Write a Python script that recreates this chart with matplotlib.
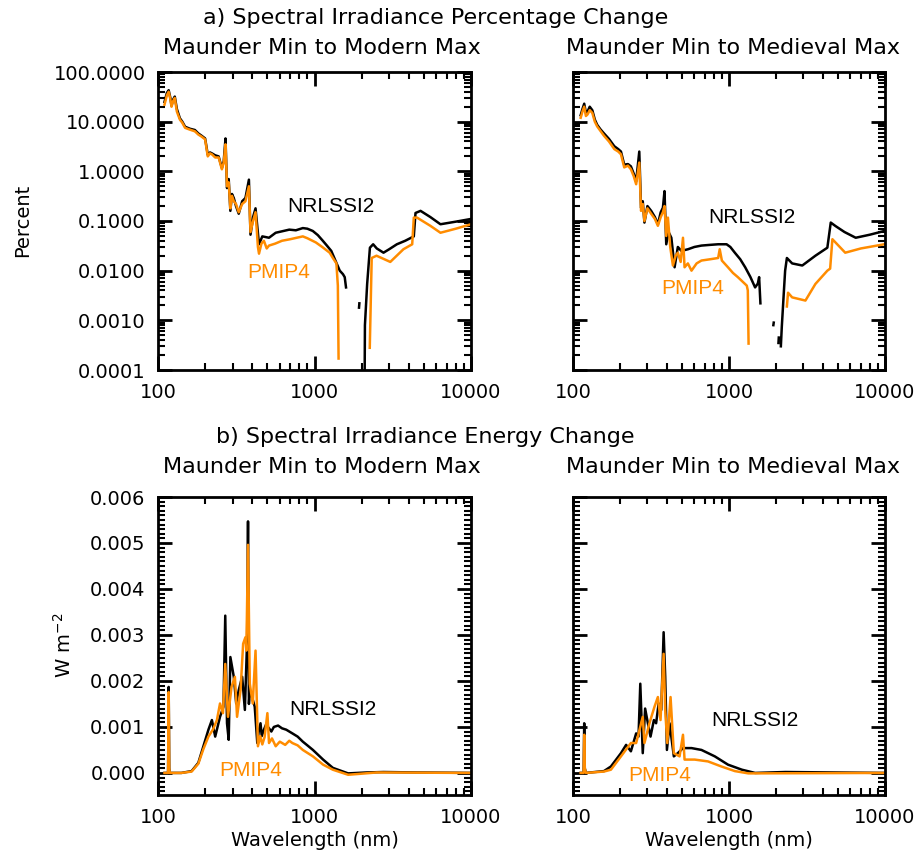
import numpy as np
import matplotlib
matplotlib.use("Agg")
import matplotlib.pyplot as plt
from matplotlib.ticker import FixedLocator, FuncFormatter, LogLocator, NullFormatter, AutoMinorLocator

nan = np.nan

# ---- a) percentage change, Maunder Min -> Modern Max
wl_pct_mod_nrl = [110, 114, 117, 120, 122, 125, 128, 132, 138, 143,
                  149, 160, 172, 181, 190, 200, 208, 215, 221, 232,
                  244, 256, 263, 270, 276, 283, 290, 297, 305, 315,
                  328, 345, 362, 381, 390, 405, 420, 442, 464, 512,
                  565, 620, 690, 760, 842, 900, 975, 1050, 1130, 1200,
                  1280, 1360, 1450, 1520, 1560, 1590, nan, 1925, 1935, nan,
                  2090, 2100, 2170, 2260, 2370, 2500, 2760, 3000, 3360, 3800,
                  4310, 4420, 4760, 5500, 6380, 8000, 10000]
pct_mod_nrl = [25, 38, 43, 30, 21, 28, 32, 18, 11.7, 10,
               7.9, 7.2, 6.8, 5.8, 5.2, 4.6, 2.15, 2.4, 2.3, 2.1,
               2.0, 1.17, 1.6, 4.6, 0.46, 0.7, 0.16, 0.35, 0.29, 0.2,
               0.14, 0.25, 0.29, 0.68, 0.053, 0.12, 0.18, 0.034, 0.049, 0.046,
               0.058, 0.062, 0.067, 0.065, 0.072, 0.07, 0.063, 0.052, 0.040, 0.032,
               0.025, 0.016, 0.010, 0.0085, 0.0074, 0.0046, nan, 0.0018, 0.0022, nan,
               0.00005, 0.0008, 0.0054, 0.029, 0.034, 0.028, 0.023, 0.027, 0.034, 0.04,
               0.049, 0.145, 0.16, 0.12, 0.086, 0.097, 0.11]

wl_pct_mod_pmip = [110, 114, 117, 120, 122, 125, 128, 132, 138, 143,
                   149, 160, 172, 181, 190, 200, 208, 215, 221, 232,
                   244, 256, 263, 270, 276, 283, 290, 297, 305, 315,
                   328, 345, 362, 381, 390, 405, 420, 435, 442, 458,
                   475, 495, 512, 560, 620, 700, 842, 900, 1020, 1120,
                   1250, 1310, 1380, 1410, 1425, nan, 2255, 2320, 2490, 3050,
                   3700, 4210, 4310, 4520, 5500, 6380, 8000, 10000]
pct_mod_pmip = [22, 34, 40, 28, 20, 26, 30, 16, 11, 9.5,
                7.5, 6.9, 6.4, 5.5, 5.0, 4.4, 2.0, 2.3, 2.2, 1.9,
                1.9, 1.1, 1.5, 3.5, 0.5, 0.6, 0.18, 0.32, 0.25, 0.22,
                0.15, 0.22, 0.25, 0.5, 0.06, 0.1, 0.15, 0.03, 0.022, 0.035,
                0.040, 0.028, 0.032, 0.035, 0.040, 0.043, 0.049, 0.045, 0.037, 0.030,
                0.023, 0.018, 0.014, 0.005, 0.00017, nan, 0.00028, 0.018, 0.020, 0.015,
                0.027, 0.034, 0.117, 0.117, 0.08, 0.058, 0.07, 0.086]

# ---- a) percentage change, Maunder Min -> Medieval Max
wl_pct_med_nrl = [112, 115, 118, 121, 124, 128, 133, 138, 143, 150,
                  158, 170, 184, 195, 203, 213, 225, 235, 245, 254,
                  266, 273, 280, 287, 300, 317, 335, 350, 365, 377,
                  386, 396, 410, 427, 448, 470, 495, 546, 600, 666,
                  750, 852, 965, 1020, 1090, 1180, 1270, 1370, 1470, 1530,
                  1560, 1590, nan, 1925, 1935, nan, 2075, 2085, nan, 2150,
                  2180, 2250, 2290, 2350, 2540, 2950, 3580, 4270, 4490, 4820,
                  5500, 6490, 8000, 9900]
pct_med_nrl = [13.5, 18, 23, 15, 16, 20, 17, 11, 8.6, 7,
               5.8, 4.5, 3.2, 2.8, 2.5, 1.36, 1.4, 1.26, 0.9, 0.63,
               2.5, 0.185, 0.25, 0.093, 0.2, 0.16, 0.12, 0.086, 0.15, 0.185,
               0.40, 0.034, 0.06, 0.046, 0.0117, 0.03, 0.025, 0.027, 0.03, 0.032,
               0.033, 0.034, 0.034, 0.03, 0.023, 0.017, 0.0117, 0.0075, 0.0046, 0.0055,
               0.0074, 0.0022, nan, 0.0008, 0.0009, nan, 0.00035, 0.00045, nan, 0.0003,
               0.00074, 0.004, 0.01, 0.018, 0.014, 0.0127, 0.020, 0.029, 0.093, 0.079,
               0.06, 0.046, 0.053, 0.063]

wl_pct_med_pmip = [112, 115, 118, 121, 124, 128, 133, 138, 143, 150,
                   158, 170, 184, 195, 203, 213, 225, 235, 245, 254,
                   266, 273, 280, 287, 300, 317, 335, 350, 365, 377,
                   386, 396, 406, 420, 437, 455, 470, 490, 507, 519,
                   545, 575, 620, 666, 760, 852, 872, 900, 985, 1060,
                   1140, 1300, 1320, 1335, nan, 2350, 2390, 2540, 3090, 3580,
                   4270, 4450, 4600, 5560, 7000, 9900]
pct_med_pmip = [12, 16, 20, 13, 14, 17, 15, 10, 8, 6.5,
                5.2, 4, 2.8, 2.5, 2.2, 1.2, 1.3, 1.1, 0.8, 0.55,
                1.5, 0.16, 0.22, 0.1, 0.18, 0.14, 0.11, 0.08, 0.12, 0.15,
                0.2, 0.05, 0.117, 0.03, 0.0127, 0.02, 0.023, 0.015, 0.046, 0.0117,
                0.014, 0.01, 0.014, 0.016, 0.017, 0.018, 0.027, 0.016, 0.0117, 0.009,
                0.0074, 0.005, 0.004, 0.00034, nan, 0.0019, 0.0036, 0.0029, 0.0025, 0.0054,
                0.01, 0.011, 0.043, 0.023, 0.028, 0.034]

# ---- b) energy change (W m-2), Maunder Min -> Modern Max
wl_en_mod_nrl = [110, 116, 117, 118, 119, 141, 164, 181, 195, 210,
                 221, 232, 249, 262, 269, 276, 283, 290, 305, 316,
                 328, 345, 359, 371, 376, 381, 386, 399, 415, 431,
                 440, 452, 460, 475, 490, 512, 530, 550, 585, 620,
                 660, 722, 780, 842, 900, 977, 1135, 1310, 1640, 2150,
                 2760, 4510, 10000]
en_mod_nrl = [0, 0, 0.00187, 0.0001, 0, 0, 0.00004, 0.00022, 0.00058, 0.00094,
              0.00115, 0.00079, 0.00122, 0.00144, 0.00342, 0.00108, 0.00072, 0.00252, 0.00209, 0.00151,
              0.0018, 0.00209, 0.00137, 0.00288, 0.00547, 0.0015, 0.0018, 0.00165, 0.00144, 0.00065,
              0.0009, 0.00108, 0.0008, 0.00094, 0.00105, 0.00097, 0.0009, 0.001, 0.00103, 0.00097,
              0.00094, 0.00086, 0.00079, 0.00068, 0.0006, 0.0005, 0.00029, 0.00011, -0.00001, 0.00001,
              0.00002, 0.00001, 0]

wl_en_mod_pmip = [110, 116, 117, 118, 119, 141, 164, 181, 195, 210,
                  225, 238, 249, 260, 269, 280, 295, 310, 320, 337,
                  350, 362, 367, 376, 386, 403, 420, 435, 450, 464,
                  480, 500, 512, 535, 565, 600, 650, 690, 722, 780,
                  842, 977, 1135, 1310, 1640, 2500, 10000]
en_mod_pmip = [0, 0, 0.00176, 0.0001, 0, 0, 0.00003, 0.0002, 0.00052, 0.00079,
               0.00095, 0.00115, 0.00151, 0.0013, 0.00237, 0.00122, 0.00187, 0.00209, 0.00122, 0.0018,
               0.00281, 0.00295, 0.00266, 0.00496, 0.00194, 0.00151, 0.00266, 0.00058, 0.0008, 0.00062,
               0.00078, 0.0013, 0.00065, 0.00075, 0.00058, 0.00068, 0.00061, 0.0007, 0.00065, 0.0006,
               0.0005, 0.00036, 0.00018, 0.00007, -0.00004, 0.00001, 0]

# ---- b) energy change (W m-2), Maunder Min -> Medieval Max
wl_en_med_nrl = [112, 117, 118, 119, 121, 158, 175, 203, 219, 235,
                 254, 263, 270, 280, 290, 302, 314, 330, 341, 354,
                 368, 381, 390, 400, 416, 443, 470, 507, 575, 666,
                 811, 985, 1210, 1470, 2300, 9900]
en_med_nrl = [0, 0, 0.00108, 0.0001, 0, 0.00004, 0.00014, 0.00043, 0.00061, 0.00047,
              0.00086, 0.00079, 0.00194, 0.00043, 0.0014, 0.00108, 0.00079, 0.00115, 0.00108, 0.00151,
              0.00137, 0.00306, 0.00209, 0.0005, 0.00108, 0.00036, 0.00043, 0.00054, 0.00054, 0.0005,
              0.00036, 0.00018, 0.00007, 0, 0.00002, 0]

wl_en_med_pmip = [112, 117, 118, 119, 121, 158, 175, 203, 235, 254,
                  267, 280, 287, 309, 333, 350, 364, 381, 390, 402,
                  422, 443, 482, 507, 519, 603, 734, 894, 1090, 1330,
                  9900]
en_med_pmip = [0, 0, 0.00083, 0.0001, 0, 0.00003, 0.00007, 0.00036, 0.00065, 0.00065,
               0.00094, 0.00122, 0.00065, 0.00108, 0.00144, 0.00165, 0.00115, 0.00259, 0.00137, 0.00065,
               0.00165, 0.00043, 0.00036, 0.00083, 0.00029, 0.00029, 0.00025, 0.00014, 0.00004, -0.00001,
               0]

ORANGE = "#ff8c00"
TITLE_FONT = "DejaVu Sans"
TICK_FONT = "DejaVu Sans"
LABEL_FONT = "Liberation Sans"

W, H = 921, 863
fig = plt.figure(figsize=(W / 100, H / 100), dpi=100)


def make_ax(x0, y0, x1, y1):
    # pixel box -> figure fraction
    return fig.add_axes([x0 / W, 1 - y1 / H, (x1 - x0) / W, (y1 - y0) / H])


ax_tl = make_ax(158, 72, 471, 370)
ax_tr = make_ax(573, 72, 885, 370)
ax_bl = make_ax(158, 497, 471, 795)
ax_br = make_ax(573, 497, 885, 795)


def style_ax(ax, log_y):
    ax.set_xscale("log")
    ax.set_xlim(100, 10000)
    ax.xaxis.set_major_locator(FixedLocator([100, 1000, 10000]))
    ax.xaxis.set_minor_locator(LogLocator(base=10, subs=np.arange(2, 10)))
    ax.xaxis.set_major_formatter(FuncFormatter(lambda v, p: "%d" % v))
    ax.xaxis.set_minor_formatter(NullFormatter())
    if log_y:
        ax.set_yscale("log")
        ax.set_ylim(0.0001, 100)
        ax.yaxis.set_major_locator(FixedLocator([0.0001, 0.001, 0.01, 0.1, 1, 10, 100]))
        ax.yaxis.set_minor_locator(LogLocator(base=10, subs=np.arange(2, 10)))
        ax.yaxis.set_minor_formatter(NullFormatter())
    else:
        ax.set_ylim(-0.00048, 0.006)
        ax.yaxis.set_major_locator(FixedLocator(np.arange(0, 0.0061, 0.001)))
        ax.yaxis.set_minor_locator(AutoMinorLocator(10))
    for s in ax.spines.values():
        s.set_linewidth(2)
    ax.tick_params(which="both", direction="in", top=True, right=True,
                   labelsize=14, pad=9)
    ax.tick_params(which="major", length=10, width=2)
    ax.tick_params(which="minor", length=5, width=1.5)


for ax in (ax_tl, ax_tr):
    style_ax(ax, True)
for ax in (ax_bl, ax_br):
    style_ax(ax, False)

ax_tl.yaxis.set_major_formatter(FuncFormatter(lambda v, p: "%.4f" % v))
ax_tr.yaxis.set_major_formatter(NullFormatter())
ax_bl.yaxis.set_major_formatter(FuncFormatter(lambda v, p: "%.3f" % v))
ax_br.yaxis.set_major_formatter(NullFormatter())

lw = 1.8
ax_tl.plot(wl_pct_mod_nrl, pct_mod_nrl, color="black", lw=lw)
ax_tl.plot(wl_pct_mod_pmip, pct_mod_pmip, color=ORANGE, lw=lw)
ax_tr.plot(wl_pct_med_nrl, pct_med_nrl, color="black", lw=lw)
ax_tr.plot(wl_pct_med_pmip, pct_med_pmip, color=ORANGE, lw=lw)
ax_bl.plot(wl_en_mod_nrl, en_mod_nrl, color="black", lw=lw)
ax_bl.plot(wl_en_mod_pmip, en_mod_pmip, color=ORANGE, lw=lw)
ax_br.plot(wl_en_med_nrl, en_med_nrl, color="black", lw=lw)
ax_br.plot(wl_en_med_pmip, en_med_pmip, color=ORANGE, lw=lw)

# series labels
lab_kw = dict(fontsize=15, family=LABEL_FONT, ha="center", va="center")
ax_tl.text(1280, 0.2, "NRLSSI2", color="black", **lab_kw)
ax_tl.text(594, 0.0093, "PMIP4", color=ORANGE, **lab_kw)
ax_tr.text(1400, 0.117, "NRLSSI2", color="black", **lab_kw)
ax_tr.text(589, 0.0043, "PMIP4", color=ORANGE, **lab_kw)
ax_bl.text(1313, 0.00137, "NRLSSI2", color="black", **lab_kw)
ax_bl.text(390, 0.00005, "PMIP4", color=ORANGE, **lab_kw)
ax_br.text(1470, 0.00115, "NRLSSI2", color="black", **lab_kw)
ax_br.text(359, -0.00006, "PMIP4", color=ORANGE, **lab_kw)

# titles
t_kw = dict(fontsize=16, family=TITLE_FONT, ha="center", va="center")
fig.text(436 / W, 1 - 18 / H, "a) Spectral Irradiance Percentage Change", **t_kw)
fig.text(322 / W, 1 - 48 / H, "Maunder Min to Modern Max", **t_kw)
fig.text(733 / W, 1 - 48 / H, "Maunder Min to Medieval Max", **t_kw)
fig.text(425 / W, 1 - 437 / H, "b) Spectral Irradiance Energy Change", **t_kw)
fig.text(322 / W, 1 - 467 / H, "Maunder Min to Modern Max", **t_kw)
fig.text(733 / W, 1 - 467 / H, "Maunder Min to Medieval Max", **t_kw)

# axis titles
fig.text(23 / W, 1 - 220 / H, "Percent", rotation=90, fontsize=14,
         family=TICK_FONT, ha="center", va="center")
fig.text(64 / W, 1 - 645 / H, "W m$^{-2}$", rotation=90, fontsize=14,
         family=TICK_FONT, ha="center", va="center")
for ax in (ax_bl, ax_br):
    ax.set_xlabel("Wavelength (nm)", fontsize=14, family=TICK_FONT, labelpad=3)

fig.savefig("out.png", dpi=100)
